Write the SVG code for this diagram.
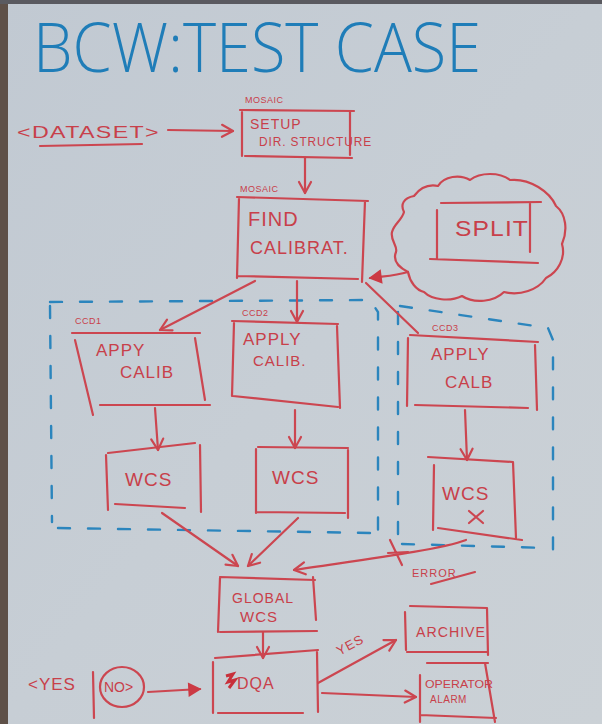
<svg xmlns="http://www.w3.org/2000/svg" width="602" height="724" viewBox="0 0 602 724">
<defs>
<linearGradient id="paper" x1="0" y1="0" x2="1" y2="1">
<stop offset="0" stop-color="#c1c9d2"/>
<stop offset="0.5" stop-color="#c7ced5"/>
<stop offset="1" stop-color="#cbd1d6"/>
</linearGradient>
<marker id="ah" markerWidth="16" markerHeight="16" refX="13" refY="8" orient="auto" markerUnits="userSpaceOnUse">
<path d="M2,2 L13,8 L2,14" fill="none" stroke="#cc4650" stroke-width="2.2" stroke-linecap="round" stroke-linejoin="round"/>
</marker>
<marker id="ahf" markerWidth="16" markerHeight="16" refX="13" refY="8" orient="auto" markerUnits="userSpaceOnUse">
<path d="M2,2 L13,8 L2,14 Z" fill="#cc3a44" stroke="#cc3a44" stroke-width="1.5"/>
</marker>
</defs>
<style>
.r{fill:none;stroke:#cc4650;stroke-width:2.2;stroke-linecap:round;stroke-linejoin:round}
.b{fill:none;stroke:#2b85bd;stroke-width:2.4;stroke-dasharray:12 18;stroke-linecap:round}
.t{fill:#c8404a;font-family:"Liberation Sans","DejaVu Sans",Arial,sans-serif;font-size:17px;letter-spacing:1px}
.s{font-size:9px;letter-spacing:0.5px}
.ti{fill:#1f7db8;font-family:"Open Sans","Liberation Sans",Arial,sans-serif;font-weight:300;font-size:68px}
</style>
<rect x="0" y="0" width="602" height="724" fill="url(#paper)"/>
<rect x="0" y="0" width="8" height="724" fill="#5e5048"/>
<rect x="0" y="0" width="602" height="4" fill="#5a5a60"/>

<g id="title">
<text class="ti" x="33" y="72" textLength="448" lengthAdjust="spacingAndGlyphs">BCW:TEST CASE</text>
</g>

<g id="dataset">
<text class="t" x="17" y="138" textLength="143" lengthAdjust="spacingAndGlyphs">&lt;DATASET&gt;</text>
<path class="r" d="M40,146 L142,144"/>
</g>

<g id="setup">
<text class="t s" x="245" y="103">MOSAIC</text>
<path class="r" d="M240,110 L354,111 M242,112 L242,156 M350,112 L350,155 M245,156 L352,158"/>
<text class="t" x="250" y="129" style="font-size:14px">SETUP</text>
<text class="t" x="259" y="146" style="font-size:13px" textLength="113" lengthAdjust="spacingAndGlyphs">DIR. STRUCTURE</text>
</g>

<g id="find-calib">
<text class="t s" x="240" y="192">MOSAIC</text>
<path class="r" d="M237,197 L368,201 M239,198 L237,278 M365,201 L362,282 M238,276 L358,279"/>
<text class="t" x="248" y="226" style="font-size:20px">FIND</text>
<text class="t" x="250" y="254" style="font-size:18px">CALIBRAT.</text>
</g>

<g id="split">
<path class="r" d="M408,272 C400,268 392,262 396,252 C398,246 390,240 392,232 C394,224 402,220 404,212 C400,204 404,198 414,196 C420,188 428,184 438,186 C444,176 460,174 470,180 C480,172 500,172 510,180 C530,178 550,192 556,206 C566,214 568,230 562,244 C566,258 558,272 546,278 C538,290 520,296 504,292 C494,302 474,304 462,296 C450,302 432,300 424,292 C416,290 410,282 408,272"/>
<path class="r" d="M441,203 L541,202 M530,203 L530,252 M437,210 L437,259 M430,259 L538,263"/>
<text class="t" x="455" y="236" style="font-size:22px" textLength="74" lengthAdjust="spacingAndGlyphs">SPLIT</text>
</g>

<g id="ccd-group-1">
<path class="b" d="M50,302 L370,300 L378,312 L378,535 M50,306 L52,522 M58,528 L372,533"/>
</g>
<g id="ccd-group-2">
<path class="b" d="M400,306 L548,328 L553,340 L553,552 M398,312 L398,548 M402,544 L548,548"/>
</g>

<g id="ccd1-apply">
<text class="t s" x="75" y="324">CCD1</text>
<path class="r" d="M72,333 L200,333 M75,340 L93,415 M195,338 L205,400 M100,405 L210,405"/>
<text class="t" x="96" y="356">APPY</text>
<text class="t" x="120" y="378">CALIB</text>
</g>

<g id="ccd2-apply">
<text class="t s" x="242" y="316">CCD2</text>
<path class="r" d="M232,321 L338,324 M234,323 L232,396 M337,326 L340,408 M233,396 L338,407"/>
<text class="t" x="243" y="345">APPLY</text>
<text class="t" x="253" y="366" style="font-size:15px">CALIB.</text>
</g>

<g id="ccd3-apply">
<text class="t s" x="432" y="331">CCD3</text>
<path class="r" d="M410,335 L538,342 M408,338 L407,406 M535,345 L537,410 M415,405 L528,408"/>
<text class="t" x="431" y="360">APPLY</text>
<text class="t" x="445" y="388">CALB</text>
</g>

<g id="ccd1-wcs">
<path class="r" d="M108,453 L195,443 M106,455 L108,510 M200,445 L201,512 M115,504 L185,508"/>
<text class="t" x="125" y="486" style="font-size:19px">WCS</text>
</g>
<g id="ccd2-wcs">
<path class="r" d="M258,447 L348,448 M256,449 L256,513 M348,450 L348,518 M257,512 L345,513"/>
<text class="t" x="272" y="484" style="font-size:19px">WCS</text>
</g>
<g id="ccd3-wcs">
<path class="r" d="M428,457 L513,462 M434,465 L433,530 M513,462 L516,538 M438,528 L522,540"/>
<text class="t" x="442" y="500" style="font-size:19px">WCS</text>
<path class="r" d="M469,511 L483,523 M483,511 L469,523"/>
</g>

<g id="global-wcs">
<path class="r" d="M220,577 L315,580 M220,578 L218,632 M313,577 L316,620 M220,632 L317,631"/>
<text class="t" x="232" y="603" style="font-size:14px">GLOBAL</text>
<text class="t" x="240" y="622" style="font-size:15px">WCS</text>
</g>

<g id="dqa">
<path class="r" d="M215,658 L318,650 M213,662 L213,713 M317,652 L318,712 M218,713 L303,713"/>
<path d="M226,676 L233,674 L228,682 L235,680 L229,688" fill="none" stroke="#c8303a" stroke-width="3"/>
<text class="t" x="237" y="689" style="font-size:16px">DQA</text>
</g>

<g id="archive">
<path class="r" d="M410,606 L487,608 M405,612 L406,650 M487,608 L488,655 M407,652 L488,652"/>
<text class="t" x="416" y="637" style="font-size:14px" textLength="70" lengthAdjust="spacingAndGlyphs">ARCHIVE</text>
</g>

<g id="alarm">
<path class="r" d="M427,663 L488,663 M420,675 L420,722 M485,663 L495,722 M420,715 L496,718"/>
<text class="t" x="425" y="688" style="font-size:10px;letter-spacing:0" textLength="68" lengthAdjust="spacingAndGlyphs">OPERATOR</text>
<text class="t" x="430" y="703" style="font-size:10px;letter-spacing:0.5px">ALARM</text>
</g>

<g id="yes-no">
<text class="t" x="28" y="690" style="font-size:17px">&lt;YES</text>
<path class="r" d="M93,672 L94,718"/>
<text class="t" x="104" y="692" style="font-size:14px;letter-spacing:0">NO&gt;</text>
<ellipse class="r" cx="122" cy="687" rx="22" ry="20"/>
</g>

<g id="connectors">
<path class="r" d="M168,130 L233,131" marker-end="url(#ah)"/>
<path class="r" d="M305,158 L305,193" marker-end="url(#ah)"/>
<path class="r" d="M408,272 C395,276 385,276 370,278" marker-end="url(#ahf)"/>
<path class="r" d="M255,281 L160,330" marker-end="url(#ah)"/>
<path class="r" d="M297,281 L297,322" marker-end="url(#ah)"/>
<path class="r" d="M366,283 L418,333"/>
<path class="r" d="M155,408 L158,450" marker-end="url(#ah)"/>
<path class="r" d="M295,410 L295,448" marker-end="url(#ah)"/>
<path class="r" d="M465,410 L467,460" marker-end="url(#ah)"/>
<path class="r" d="M162,513 L238,566" marker-end="url(#ah)"/>
<path class="r" d="M298,518 L248,566" marker-end="url(#ah)"/>
<path class="r" d="M466,540 C440,550 360,560 294,570" marker-end="url(#ah)"/>
<path class="r" d="M390,540 L402,565 M388,553 L408,552"/>
<text class="t" x="412" y="577" style="font-size:11px;letter-spacing:1px">ERROR</text>
<path class="r" d="M431,584 L475,572"/>
<path class="r" d="M263,632 L263,658" marker-end="url(#ah)"/>
<path class="r" d="M148,692 L200,689" marker-end="url(#ahf)"/>
<path class="r" d="M318,683 L396,640" marker-end="url(#ah)"/>
<text class="t" x="334" y="650" style="font-size:13px" transform="rotate(-28 348 642)">YES</text>
<path class="r" d="M322,693 L416,697" marker-end="url(#ah)"/>
</g>
</svg>
